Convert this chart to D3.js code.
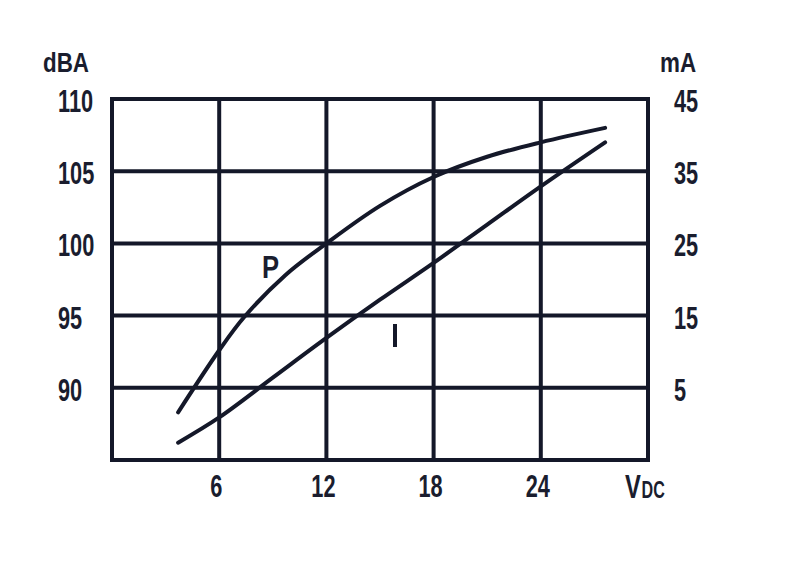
<!DOCTYPE html>
<html><head><meta charset="utf-8">
<script src="https://cdn.jsdelivr.net/npm/d3@7"></script>
<style>
html,body{margin:0;padding:0;background:#fff;}
text{font-family:"Liberation Sans Narrow","Liberation Sans",sans-serif;font-weight:bold;fill:#1a1d2e;}
</style></head>
<body><svg id="c" width="800" height="566"></svg>
<script>
// Data
const xTicks = [6, 12, 18, 24];
const leftTicks = [90, 95, 100, 105, 110];
const rightTicks = [5, 15, 25, 35, 45];
const pX = [3.7, 6, 7.4, 9.7, 12, 15, 18, 21, 24, 27.6];
const pDBA = [88.3, 92.6, 94.9, 97.8, 100, 102.6, 104.6, 106, 107, 108];
const iX = [3.7, 6, 9, 12, 15, 18, 21, 24, 27.6];
const iMA = [-2.6, 0.9, 6.4, 11.9, 17.2, 22.3, 27.6, 32.9, 39];

const ink = "#141829";
const svg = d3.select("#c");
const x = d3.scaleLinear().domain([0, 30]).range([112, 648]);
const yL = d3.scaleLinear().domain([85, 110]).range([460, 99]);
const yR = d3.scaleLinear().domain([-5, 45]).range([460, 99]);

const g = svg.append("g");
g.selectAll("line.v").data([0, ...xTicks, 30]).join("line")
  .attr("x1", d => x(d)).attr("x2", d => x(d))
  .attr("y1", yL(110)).attr("y2", yL(85))
  .attr("stroke", ink).attr("stroke-width", 4).attr("stroke-linecap", "square");
g.selectAll("line.h").data([85, ...leftTicks]).join("line")
  .attr("x1", x(0)).attr("x2", x(30))
  .attr("y1", d => yL(d)).attr("y2", d => yL(d))
  .attr("stroke", ink).attr("stroke-width", 4).attr("stroke-linecap", "square");

const lineP = d3.line().x(d => x(d[0])).y(d => yL(d[1])).curve(d3.curveCatmullRom);
const lineI = d3.line().x(d => x(d[0])).y(d => yR(d[1])).curve(d3.curveCatmullRom);
g.append("path").attr("d", lineP(pX.map((v, i) => [v, pDBA[i]])))
  .attr("fill", "none").attr("stroke", ink).attr("stroke-width", 4).attr("stroke-linecap", "round");
g.append("path").attr("d", lineI(iX.map((v, i) => [v, iMA[i]])))
  .attr("fill", "none").attr("stroke", ink).attr("stroke-width", 4).attr("stroke-linecap", "round");

function txt(s, tx, ty, size, anchor, sx) {
  return svg.append("text")
    .attr("transform", `translate(${tx},${ty}) scale(${sx || 0.68},1)`)
    .attr("font-size", size).attr("text-anchor", anchor || "start").text(s);
}
leftTicks.forEach(v => txt(String(v), 58, yL(v) + 13, 32, "start"));
rightTicks.forEach(v => txt(String(v), 674, yR(v) + 13, 32, "start"));
xTicks.forEach(v => txt(String(v), x(v) - 3, 497, 32, "middle"));
txt("dBA", 43, 72, 28, "start", 0.8);
txt("mA", 660, 72, 28, "start", 0.8);
const vt = svg.append("text").attr("transform", "translate(625,498) scale(0.7,1)").attr("font-size", 34);
vt.append("tspan").text("V");
vt.append("tspan").attr("font-size", 23).attr("dx", 1).text("DC");
txt("P", 262, 278, 32, "start", 0.8);
svg.append("line").attr("x1", 395).attr("x2", 395).attr("y1", 324).attr("y2", 347)
  .attr("stroke", ink).attr("stroke-width", 4);
</script></body></html>
